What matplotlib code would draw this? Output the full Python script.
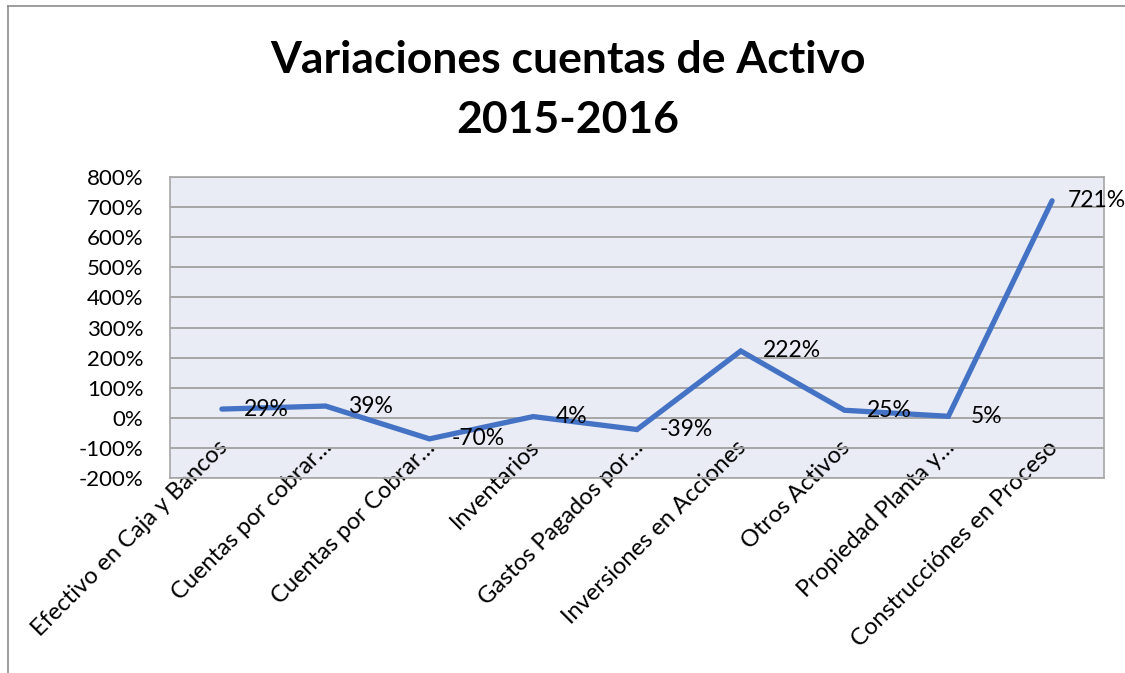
import matplotlib
matplotlib.use("Agg")
import matplotlib.pyplot as plt
from matplotlib.ticker import FuncFormatter, MultipleLocator
from matplotlib.lines import Line2D
from matplotlib.transforms import ScaledTranslation

categories = [
    "Efectivo en Caja y Bancos",
    "Cuentas por cobrar…",
    "Cuentas por Cobrar…",
    "Inventarios",
    "Gastos Pagados por…",
    "Inversiones en Acciones",
    "Otros Activos",
    "Propiedad Planta y…",
    "Construcciónes en Proceso",
]
values = [29, 39, -70, 4, -39, 222, 25, 5, 721]
title_line1 = "Variaciones cuentas de Activo"
title_line2 = "2015-2016"

plt.rcParams['font.family'] = ['Lato', 'DejaVu Sans']

W, H = 1125, 673
fig = plt.figure(figsize=(W / 100, H / 100), dpi=100)
fig.patch.set_facecolor("white")

# outer chart border (left and top visible)
fig.add_artist(Line2D([8 / W, 8 / W], [0, 1 - 6 / H], transform=fig.transFigure,
                      color="#8c8c8c", lw=1.2))
fig.add_artist(Line2D([8 / W, 1], [1 - 6 / H, 1 - 6 / H], transform=fig.transFigure,
                      color="#8c8c8c", lw=1.2))

ax = fig.add_axes([170 / W, 1 - 478 / H, (1104 - 170) / W, (478 - 177) / H])
ax.set_facecolor("#E9EBF5")
x = list(range(len(categories)))
ax.plot(x, values, color="#4472C4", lw=3.8, solid_capstyle="round",
        solid_joinstyle="miter", zorder=3)

ax.set_xlim(-0.5, len(categories) - 0.5)
ax.set_ylim(-200, 800)
ax.yaxis.set_major_locator(MultipleLocator(100))
ax.yaxis.set_major_formatter(FuncFormatter(lambda v, p: f"{int(round(v))}%"))
ax.grid(axis="y", color="#A0A0A0", lw=1.3, zorder=1)
ax.set_axisbelow(True)
for s in ax.spines.values():
    s.set_color("#A6A6A6")
    s.set_linewidth(1.2)
ax.tick_params(axis="both", length=0, labelsize=16, colors="black")
ax.tick_params(axis="y", pad=19)
ax.set_xticks(x)
ax.set_xticklabels(categories, rotation=45, ha="right", va="top",
                   rotation_mode="anchor", fontsize=17)
ax.tick_params(axis="x", pad=4)
shift = ScaledTranslation(-0.05, 0.47, fig.dpi_scale_trans)
for lbl in ax.get_xticklabels():
    lbl.set_transform(lbl.get_transform() + shift)
    lbl.set_zorder(5)

last = len(values) - 1
for xi, v in zip(x, values):
    off = 11 if xi == last else 16
    ax.annotate(f"{v}%", (xi, v), xytext=(off, 0), textcoords="offset points",
                ha="left", va="center", fontsize=16.5, color="black",
                annotation_clip=False, zorder=4)

fig.text(568 / W, 1 - 73 / H, title_line1, ha="center", va="baseline",
         fontsize=32, fontweight="bold")
fig.text(568 / W, 1 - 133 / H, title_line2, ha="center", va="baseline",
         fontsize=32, fontweight="bold")

fig.savefig("out.png", dpi=100)
